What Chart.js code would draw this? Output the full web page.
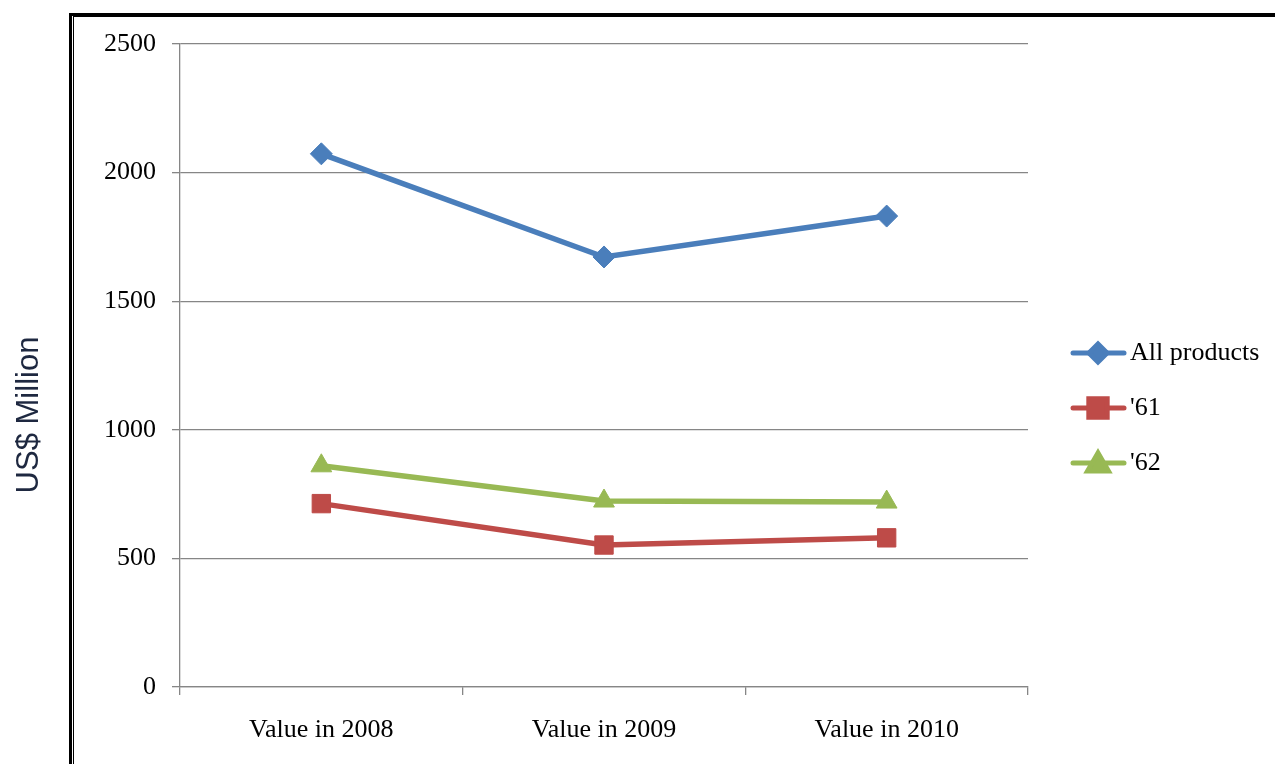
<!DOCTYPE html>
<html>
<head>
<meta charset="utf-8">
<script src="https://cdn.jsdelivr.net/npm/chart.js@4/dist/chart.umd.min.js"></script>
<style>
    html, body { margin: 0; padding: 0; background: #fff; }
    #wrap { position: relative; width: 1275px; height: 764px; overflow: hidden; }
    #frameOuter { position: absolute; left: 69px; top: 13px; width: 1400px; height: 900px;
        border-left: 3px solid #000; border-top: 3px solid #000; }
    #frameInner { position: absolute; left: 73px; top: 16px; width: 1400px; height: 900px;
        border-left: 1px solid #000; border-top: 1px solid #000; }
    canvas { position: absolute; left: 0; top: 0; }
</style>
</head>
<body>
<div id="wrap">
    <div id="frameOuter"></div>
    <div id="frameInner"></div>
    <canvas id="chart" width="1275" height="764"></canvas>
</div>
<script>
var categories = ["Value in 2008", "Value in 2009", "Value in 2010"];
var allProducts = [2073, 1672, 1831];
var series61 = [713, 552, 580];
var series62 = [860, 723, 719];
var yTicks = [0, 500, 1000, 1500, 2000, 2500];
var yTitle = "US$ Million";

var GRID = "#868686";
var FONT = "'Liberation Serif', 'Times New Roman', serif";

var legendPlugin = {
    id: 'sideLegend',
    afterDraw: function (chart) {
        var ctx = chart.ctx;
        var rows = [353, 408, 463];
        chart.data.datasets.forEach(function (ds, i) {
            var y = rows[i];
            ctx.save();
            ctx.strokeStyle = ds.borderColor;
            ctx.lineWidth = 5;
            ctx.lineCap = 'round';
            ctx.beginPath();
            ctx.moveTo(1073, y);
            ctx.lineTo(1124, y);
            ctx.stroke();
            ctx.fillStyle = ds.pointBackgroundColor;
            ctx.strokeStyle = ds.pointBorderColor;
            var py = ds.pointStyle == 'triangle' ? y + 2 : y;
            Chart.helpers.drawPoint(ctx, {
                pointStyle: ds.pointStyle,
                radius: ds.pointStyle == 'rectRot' ? 9 : ds.pointRadius,
                rotation: 0,
                borderWidth: 1
            }, 1098, py);
            ctx.fillStyle = '#000';
            ctx.font = '26px ' + FONT;
            ctx.textAlign = 'left';
            ctx.textBaseline = 'middle';
            ctx.fillText(ds.label, 1130, y);
            ctx.restore();
        });

        // axis title, centred like the original (a little below the plot middle)
        ctx.save();
        ctx.translate(29, 415);
        ctx.rotate(-Math.PI / 2);
        ctx.fillStyle = '#1e2840';
        ctx.font = "31px 'Liberation Sans', Arial, sans-serif";
        ctx.textAlign = 'center';
        ctx.textBaseline = 'middle';
        ctx.fillText(yTitle, 0, 0);
        ctx.restore();
    }
};

function makeSet(label, data, color, style, radius) {
    return {
        label: label,
        data: data,
        borderColor: color,
        backgroundColor: color,
        pointBackgroundColor: color,
        pointBorderColor: color,
        pointBorderWidth: 1,
        pointStyle: style,
        pointRadius: radius,
        pointHoverRadius: radius,
        borderWidth: 5.5,
        tension: 0,
        fill: false
    };
}

new Chart(document.getElementById('chart'), {
    type: 'line',
    data: {
        labels: categories,
        datasets: [
            makeSet("All products", allProducts, "#4A7EBB", 'rectRot', 11),
            makeSet("'61", series61, "#BE4B48", 'rect', 13),
            makeSet("'62", series62, "#98B954", 'triangle', 12)
        ]
    },
    plugins: [legendPlugin],
    options: {
        responsive: false,
        animation: false,
        events: [],
        layout: { padding: { top: 44, right: 247, left: 0, bottom: 0 } },
        plugins: {
            legend: { display: false },
            tooltip: { enabled: false }
        },
        scales: {
            x: {
                offset: true,
                grid: {
                    offset: true,
                    drawOnChartArea: false,
                    drawTicks: true,
                    tickLength: 8,
                    color: GRID,
                    lineWidth: 1.3
                },
                border: { display: true, color: GRID, width: 1.3 },
                ticks: {
                    color: '#000',
                    font: { family: FONT, size: 26 },
                    padding: 20,
                    maxRotation: 0
                },
                afterFit: function (scale) {
                    scale.height = 77;
                    scale.paddingLeft = 0;
                    scale.paddingRight = 0;
                }
            },
            y: {
                min: 0,
                max: 2500,
                afterBuildTicks: function (scale) {
                    scale.ticks = yTicks.map(function (v) { return { value: v }; });
                },
                grid: {
                    color: GRID,
                    lineWidth: 1.3,
                    drawTicks: true,
                    tickLength: 8
                },
                border: { display: true, color: GRID, width: 1.3 },
                ticks: {
                    color: '#000',
                    font: { family: FONT, size: 26 },
                    padding: 16,
                    callback: function (value) { return String(value); }
                },
                afterFit: function (scale) {
                    scale.width = 180;
                    scale.paddingTop = 0;
                    scale.paddingBottom = 0;
                }
            }
        }
    }
});
</script>
</body>
</html>
